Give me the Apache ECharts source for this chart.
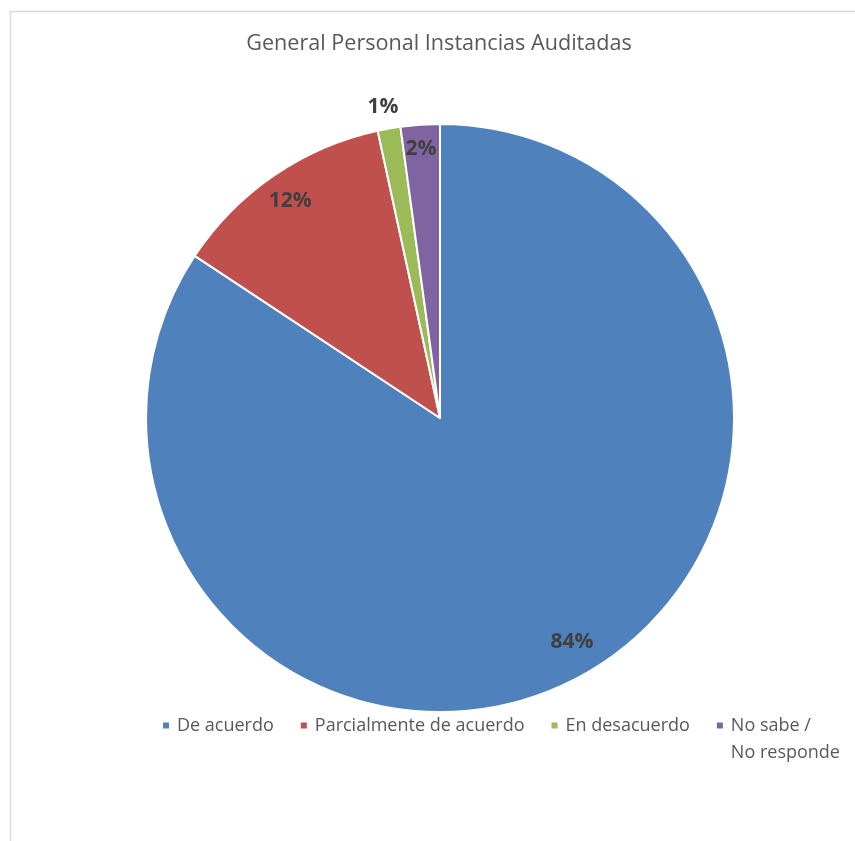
<!DOCTYPE html>
<html><head><meta charset="utf-8">
<style>html,body{margin:0;padding:0;background:#fff}#c{width:855px;height:841px}</style>
<script src="https://cdn.jsdelivr.net/npm/echarts@6/dist/echarts.min.js"></script>
</head><body><div id="c"></div>
<script>
const titleText = 'General Personal Instancias Auditadas';
const categories = ['De acuerdo', 'Parcialmente de acuerdo', 'En desacuerdo', 'No sabe / No responde'];
const values = [84.3, 12.3, 1.25, 2.15];
const percentLabels = ['84%', '12%', '1%', '2%'];
const colors = ['#4F81BD', '#C0504D', '#9BBB59', '#8064A2'];
const labelOffsets = [[61, 92], [-65, -93], [-31, -163], [-9, -119]];

const chart = echarts.init(document.getElementById('c'));
const FONT = 'Open Sans';
chart.setOption({
  animation: false,
  graphic: [{type: 'rect', shape: {x: 10.5, y: 11.5, width: 900, height: 900}, style: {fill: 'none', stroke: '#d9d9d9', lineWidth: 1.5}, silent: true}],
  title: {text: titleText, left: 434, top: 28, textAlign: 'center',
    textStyle: {fontFamily: FONT, fontSize: 21.6, fontWeight: 'normal', color: '#595959'}},
  legend: {
    top: 685, left: 161, padding: 0, itemWidth: 8, itemHeight: 8, itemGap: 25, icon: 'rect',
    textStyle: {fontFamily: FONT, fontSize: 18, color: '#595959', padding: [0, 0, 0, 2]},
    data: categories.map((c, i) => i === 3
      ? {name: c, textStyle: {lineHeight: 27}}
      : {name: c}),
    formatter: n => n === 'No sabe / No responde' ? '\nNo sabe /\nNo responde' : n
  },
  series: [{
    type: 'pie', center: [440, 418], radius: 294, startAngle: 90, clockwise: true,
    avoidLabelOverlap: false,
    itemStyle: {borderColor: '#fff', borderWidth: 2},
    label: {show: true, position: 'inside', fontFamily: FONT, fontSize: 21, fontWeight: 'bold', color: '#404040',
      formatter: p => percentLabels[p.dataIndex]},
    labelLine: {show: false},
    data: categories.map((c, i) => ({name: c, value: values[i], itemStyle: {color: colors[i]}, label: {offset: labelOffsets[i]}}))
  }]
});
</script></body></html>
